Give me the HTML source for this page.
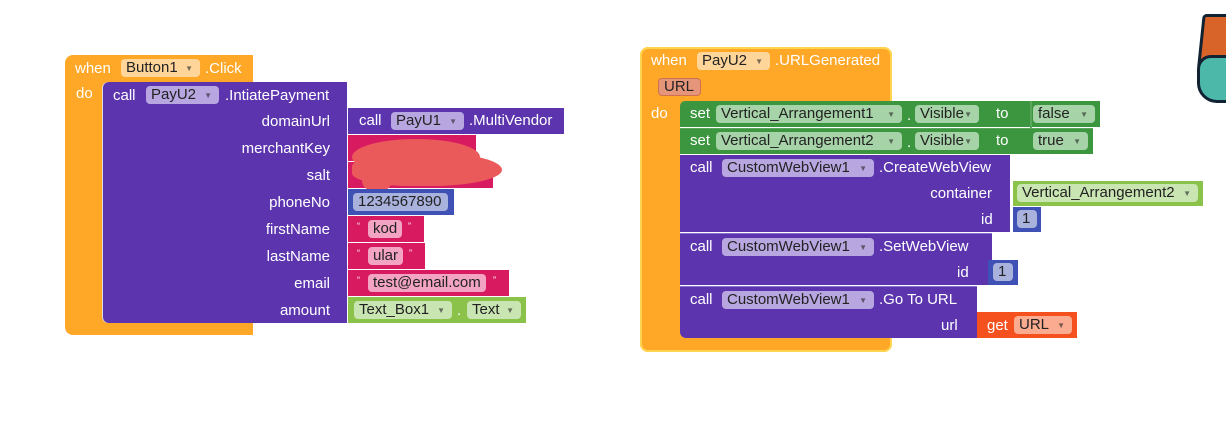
<!DOCTYPE html>
<html><head><meta charset="utf-8"><style>
body{margin:0;width:1226px;height:446px;background:#fff;position:relative;overflow:hidden;font-family:"Liberation Sans",Arial,sans-serif;font-size:15px}
.b{position:absolute}
.t{position:absolute;color:#fff;white-space:nowrap;line-height:16px}
.f{position:absolute;border-radius:4px;color:#222;white-space:nowrap;line-height:18px;height:18px;padding:0 5px;box-sizing:border-box}
.f i{font-style:normal;font-size:8px;position:absolute;right:7px;top:1px;opacity:.6}
.or{background:#ffa726}.pu{background:#5c35ae}.mg{background:#d81b60}.bl{background:#3f51b5}.gr{background:#8bc34a}.dg{background:#3b963f}.rd{background:#f4511e}
.fo{background:#ffd59a}.fp{background:#b8a6e0}.fm{background:#f4a4c3}.fb{background:#a9b1dd}.fg{background:#c9e5b2}.fd{background:#a6d3a8}.fr{background:#fbab90}
.r{text-align:right}
</style></head><body>
<!-- left event -->
<div class="b or" style="left:65px;top:55px;width:188px;height:280px;border-radius:8px 0 0 8px"></div>
<div class="b" style="left:253px;top:82px;width:10px;height:241px;background:#fff"></div>
<div class="t" style="left:75px;top:61px">when</div>
<div class="f fo" style="left:121px;top:59px;width:79px">Button1<i>▼</i></div>
<div class="t" style="left:205px;top:61px">.Click</div>
<div class="t" style="left:76px;top:86px">do</div>
<div class="b pu" style="left:103px;top:82px;width:244px;height:241px;border-radius:6px 0 0 6px;box-shadow:-1px 0 0 #ddd"></div>
<div class="t" style="left:113px;top:88px">call</div>
<div class="f fp" style="left:146px;top:86px;width:73px">PayU2<i>▼</i></div>
<div class="t" style="left:225px;top:88px">.IntiatePayment</div>
<div class="t r" style="left:180px;width:150px;top:114px">domainUrl</div>
<div class="t r" style="left:180px;width:150px;top:141px">merchantKey</div>
<div class="t r" style="left:180px;width:150px;top:168px">salt</div>
<div class="t r" style="left:180px;width:150px;top:195px">phoneNo</div>
<div class="t r" style="left:180px;width:150px;top:222px">firstName</div>
<div class="t r" style="left:180px;width:150px;top:249px">lastName</div>
<div class="t r" style="left:180px;width:150px;top:276px">email</div>
<div class="t r" style="left:180px;width:150px;top:303px">amount</div>
<div class="b pu" style="left:348px;top:108px;width:216px;height:26px"></div>
<div class="t" style="left:359px;top:113px">call</div>
<div class="f fp" style="left:391px;top:112px;width:73px">PayU1<i>▼</i></div>
<div class="t" style="left:469px;top:113px">.MultiVendor</div>
<div class="b mg" style="left:348px;top:135px;width:128px;height:26px"></div>
<div class="b mg" style="left:348px;top:162px;width:145px;height:26px"></div>
<div class="b" style="left:352px;top:139px;width:128px;height:36px;background:#eb5a5a;border-radius:50%"></div>
<div class="b" style="left:352px;top:152px;width:150px;height:34px;background:#eb5a5a;border-radius:45% 55% 50% 40%"></div>
<div class="b" style="left:362px;top:170px;width:30px;height:22px;background:#eb5a5a;border-radius:50%"></div>
<div class="b bl" style="left:348px;top:189px;width:106px;height:26px"></div>
<div class="f fb" style="left:353px;top:193px;width:95px;color:#222">1234567890</div>
<div class="b mg" style="left:348px;top:216px;width:76px;height:26px"></div>
<div class="t" style="left:357px;top:218px;font-size:9px">“</div><div class="f fm" style="left:368px;top:220px;width:34px">kod</div><div class="t" style="left:408px;top:218px;font-size:9px">”</div>
<div class="b mg" style="left:348px;top:243px;width:77px;height:26px"></div>
<div class="t" style="left:357px;top:245px;font-size:9px">“</div><div class="f fm" style="left:368px;top:247px;width:35px">ular</div><div class="t" style="left:409px;top:245px;font-size:9px">”</div>
<div class="b mg" style="left:348px;top:270px;width:161px;height:26px"></div>
<div class="t" style="left:357px;top:272px;font-size:9px">“</div><div class="f fm" style="left:368px;top:274px;width:118px">test@email.com</div><div class="t" style="left:493px;top:272px;font-size:9px">”</div>
<div class="b gr" style="left:348px;top:297px;width:178px;height:26px"></div>
<div class="f fg" style="left:354px;top:301px;width:98px">Text_Box1<i>▼</i></div>
<div class="t" style="left:457px;top:303px;color:#fff">.</div>
<div class="f fg" style="left:467px;top:301px;width:54px">Text<i>▼</i></div>

<!-- right event -->
<div class="b or" style="left:640px;top:47px;width:252px;height:305px;border-radius:8px;box-shadow:0 0 0 2px #ffd54f inset"></div>
<div class="b" style="left:680px;top:101px;width:220px;height:237px;background:#fff;border-radius:6px 0 0 6px"></div>
<div class="t" style="left:651px;top:53px">when</div>
<div class="f fo" style="left:697px;top:52px;width:73px">PayU2<i>▼</i></div>
<div class="t" style="left:775px;top:53px">.URLGenerated</div>
<div class="f" style="left:658px;top:78px;width:43px;background:#e5957a;border:1px solid #d07050;line-height:16px">URL</div>
<div class="t" style="left:651px;top:106px">do</div>
<div class="b dg" style="left:680px;top:101px;width:420px;height:26px;border-radius:5px 0 0 0"></div>
<div class="t" style="left:690px;top:106px">set</div>
<div class="f fd" style="left:716px;top:105px;width:186px">Vertical_Arrangement1<i>▼</i></div>
<div class="t" style="left:907px;top:108px">.</div>
<div class="f fd" style="left:915px;top:105px;width:64px">Visible<i>▼</i></div>
<div class="t" style="left:996px;top:106px">to</div>
<div class="b" style="left:1030px;top:101px;width:2px;height:53px;background:#5aa65d"></div>
<div class="f fd" style="left:1033px;top:105px;width:62px">false<i>▼</i></div>
<div class="b dg" style="left:680px;top:128px;width:413px;height:26px;border-top:1px solid #5aa65d;box-sizing:border-box"></div>
<div class="t" style="left:690px;top:133px">set</div>
<div class="f fd" style="left:716px;top:132px;width:186px">Vertical_Arrangement2<i>▼</i></div>
<div class="t" style="left:907px;top:135px">.</div>
<div class="f fd" style="left:915px;top:132px;width:64px">Visible<i>▼</i></div>
<div class="t" style="left:996px;top:133px">to</div>
<div class="f fd" style="left:1033px;top:132px;width:55px">true<i>▼</i></div>
<div class="b pu" style="left:680px;top:155px;width:330px;height:77px"></div>
<div class="t" style="left:690px;top:160px">call</div>
<div class="f fp" style="left:722px;top:159px;width:152px">CustomWebView1<i>▼</i></div>
<div class="t" style="left:879px;top:160px">.CreateWebView</div>
<div class="t r" style="left:880px;width:112px;top:186px">container</div>
<div class="t" style="left:981px;top:212px">id</div>
<div class="b gr" style="left:1013px;top:181px;width:190px;height:25px"></div>
<div class="f fg" style="left:1017px;top:184px;width:181px">Vertical_Arrangement2<i>▼</i></div>
<div class="b bl" style="left:1013px;top:207px;width:28px;height:25px"></div>
<div class="f fb" style="left:1017px;top:210px;width:20px">1</div>
<div class="b pu" style="left:680px;top:233px;width:312px;height:52px;border-top:1px solid #8a6fcf;box-sizing:border-box"></div>
<div class="t" style="left:690px;top:239px">call</div>
<div class="f fp" style="left:722px;top:238px;width:152px">CustomWebView1<i>▼</i></div>
<div class="t" style="left:879px;top:239px">.SetWebView</div>
<div class="t" style="left:957px;top:265px">id</div>
<div class="b bl" style="left:988px;top:260px;width:30px;height:25px"></div>
<div class="f fb" style="left:993px;top:263px;width:20px">1</div>
<div class="b pu" style="left:680px;top:286px;width:297px;height:52px;border-top:1px solid #8a6fcf;box-sizing:border-box;border-radius:0 0 0 6px"></div>
<div class="t" style="left:690px;top:292px">call</div>
<div class="f fp" style="left:722px;top:291px;width:152px">CustomWebView1<i>▼</i></div>
<div class="t" style="left:879px;top:292px">.Go To URL</div>
<div class="t" style="left:941px;top:318px">url</div>
<div class="b rd" style="left:977px;top:312px;width:100px;height:26px"></div>
<div class="t" style="left:987px;top:318px">get</div>
<div class="f fr" style="left:1014px;top:316px;width:58px">URL<i>▼</i></div>

<!-- mascot -->
<div class="b" style="left:1200px;top:14px;width:40px;height:46px;background:#d9642a;border:3px solid #123;border-radius:4px 0 0 0;transform:skewX(-6deg)"></div>
<div class="b" style="left:1197px;top:55px;width:45px;height:42px;background:#4bb8a9;border:3px solid #123;border-radius:14px 0 0 20px"></div>
</body></html>
